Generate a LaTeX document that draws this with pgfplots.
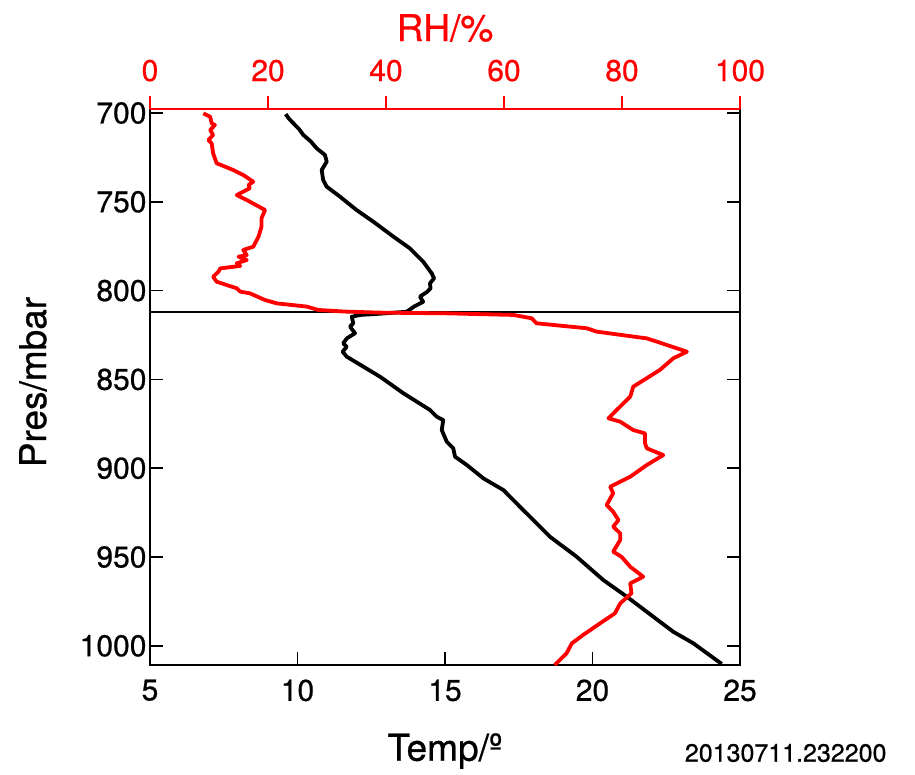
\documentclass[border=0pt]{standalone}
\usepackage{pgfplots}
\usepackage{pgfplotstable}
\pgfplotsset{compat=1.18}
\usepackage{fontspec}
\setmainfont[FakeBold=0.6,AutoFakeBold=0.6]{TeX Gyre Heros}
\newfontfamily\heavy[FakeBold=0.7]{TeX Gyre Heros}

\pgfplotstableread{
p t
700.6 9.60
703.0 9.70
705.8 9.86
709.0 10.05
712.4 10.20
716.0 10.45
719.9 10.65
723.6 10.93
727.4 10.99
732.1 10.82
737.7 10.87
741.5 10.99
747.1 11.44
754.6 12.00
761.2 12.57
769.6 13.25
776.2 13.81
783.7 14.26
790.3 14.55
793.1 14.63
795.9 14.49
798.7 14.51
800.6 14.40
803.4 14.15
806.3 14.26
809.0 13.95
811.9 13.70
813.0 12.80
813.7 12.12
814.7 11.84
818.4 11.89
820.3 11.78
824.0 11.95
826.9 11.67
829.7 11.55
831.6 11.67
834.4 11.53
837.2 11.67
842.8 12.23
848.5 12.80
857.8 13.59
867.2 14.49
871.0 14.72
872.9 14.94
878.5 14.89
885.1 15.06
888.8 15.28
893.5 15.34
898.2 15.74
905.7 16.30
912.3 16.98
921.7 17.54
938.6 18.56
949.8 19.46
963.0 20.37
972.3 21.16
983.6 22.06
992.1 22.74
998.6 23.42
1010.2 24.38
}\tempdata

\pgfplotstableread{
p rh
700.2 9.04
702.1 10.2
705.8 10.45
706.8 11.0
709.6 10.2
712.4 10.7
715.2 9.9
717.1 10.45
722.7 10.7
728.3 11.3
732.1 14.1
734.9 15.8
738.7 17.5
740.5 16.7
742.4 16.9
746.2 14.7
749.0 16.4
754.6 19.5
759.3 18.9
764.0 18.9
769.6 18.4
775.3 17.5
777.1 15.8
780.0 16.4
780.9 15.0
782.8 16.4
784.6 14.7
786.1 15.3
787.5 11.9
789.4 11.6
792.2 10.7
795.0 11.3
798.7 14.7
800.6 15.3
801.5 16.9
805.3 19.5
807.2 21.5
809.0 26.6
810.9 28.5
811.8 33.0
812.4 39.0
812.8 50.3
813.7 61.6
815.6 64.7
818.4 65.5
821.2 74.0
823.1 75.7
826.9 84.2
830.6 87.6
834.4 91.0
838.1 88.7
844.7 86.4
854.1 81.9
859.7 81.4
867.2 79.1
871.9 77.7
873.8 79.7
878.5 81.9
880.4 83.9
885.9 83.9
888.8 84.2
892.6 87.0
898.2 84.2
904.8 81.4
910.4 78.0
914.1 78.5
920.7 77.4
924.5 78.5
929.2 79.4
932.9 78.5
936.7 79.7
940.4 79.7
947.0 78.5
949.8 79.9
955.5 81.4
961.1 83.6
964.8 81.4
970.4 81.6
976.1 79.7
981.7 78.8
987.3 76.3
993.9 73.4
998.6 71.5
1004.2 70.6
1010.8 68.6
}\rhdata

\begin{document}
\begin{tikzpicture}
\path[use as bounding box] (-150pt,-109pt) rectangle (765pt,665pt);
% Temperature / pressure axis
\begin{axis}[
  at={(0pt,0pt)}, anchor=south west,
  scale only axis, width=590pt, height=556pt,
  xmin=5, xmax=25, ymin=697.75, ymax=1010.8,
  y dir=reverse,
  xtick={5,10,15,20,25}, ytick={700,750,800,850,900,950,1000},
  xtick pos=bottom, ytick pos=both,
  tick align=inside, major tick length=13pt,
  axis line style={line width=1.8pt, black},
  every tick/.style={black, line width=1.6pt},
  /pgf/number format/assume math mode=true,
  /pgf/number format/set thousands separator={},
  tick label style={font=\heavy\fontsize{30}{36}\selectfont},
  xticklabel style={yshift=-11pt},
  xlabel={Temp/º}, ylabel={Pres/mbar},
  every axis x label/.style={at={(axis description cs:0.5,0)}, anchor=center, xshift=0pt, yshift=-86pt, font=\heavy\fontsize{37}{44}\selectfont},
  every axis y label/.style={at={(axis description cs:0,0.5)}, anchor=center, xshift=-117pt, yshift=5pt, rotate=90, font=\heavy\fontsize{37}{44}\selectfont},
  clip=true,
]
\addplot[black, line width=3.8pt, line join=round] table[x=t, y=p] {\tempdata};
\addplot[black, line width=1.3pt] coordinates {(5,812.1) (25,812.1)};
\end{axis}
% RH axis on top
\begin{axis}[
  at={(0pt,0pt)}, anchor=south west,
  scale only axis, width=590pt, height=556pt,
  xmin=0, xmax=100, ymin=697.75, ymax=1010.8,
  y dir=reverse,
  axis x line*=top, axis y line=none,
  xtick={0,20,40,60,80,100},
  tick align=outside, major tick length=13pt,
  axis line style={line width=1.8pt, red, -},
  every tick/.style={red, line width=1.6pt},
  /pgf/number format/assume math mode=true,
  tick label style={font=\heavy\fontsize{30}{36}\selectfont, red},
  xticklabel style={yshift=11pt},
  xlabel={RH/\%},
  every axis x label/.style={at={(axis description cs:0.5,1)}, anchor=center, yshift=81pt, font=\heavy\fontsize{37}{44}\selectfont, red},
  clip=true,
]
\addplot[red, line width=3.8pt, line join=round] table[x=rh, y=p] {\rhdata};
\end{axis}
\node[anchor=east, font=\heavy\fontsize{25}{30}\selectfont] at (740pt,-88pt) {20130711.232200};
\end{tikzpicture}
\end{document}
